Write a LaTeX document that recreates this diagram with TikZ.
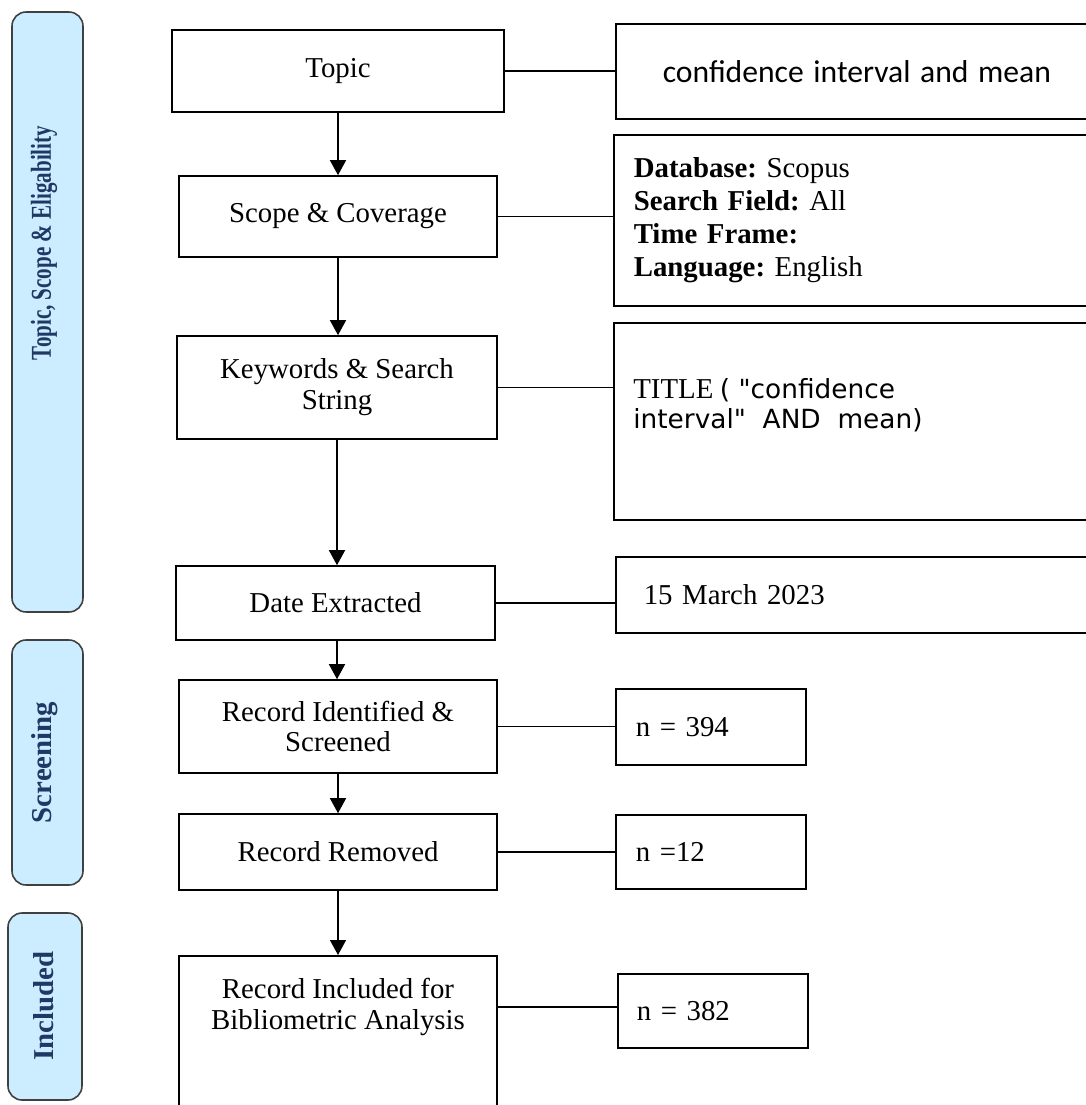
\documentclass[tikz,border=0pt]{standalone}
\usepackage{fontspec}
\setmainfont{Liberation Serif}
\newfontfamily\calibrifont{Carlito}
\newfontfamily\verdanafont{DejaVu Sans}
\usetikzlibrary{arrows.meta,positioning}
\definecolor{barfill}{HTML}{CCECFF}
\definecolor{bartext}{HTML}{1F3864}
\definecolor{barline}{HTML}{404040}
\newcommand{\boxfont}{\fontsize{16.4}{17.6}\selectfont}
\frenchspacing

\tikzset{
  stepbox/.style={draw, line width=0.9pt, align=center, inner sep=0pt, font=\boxfont},
  infobox/.style={draw, line width=0.9pt, anchor=north west, align=left, inner ysep=0pt, font=\boxfont},
  phase/.style={draw=barline, fill=barfill, rounded corners=8pt, line width=0.9pt},
  phasetext/.style={rotate=90, text=bartext, font=\bfseries\fontsize{16.4}{18}\selectfont},
  flow/.style={line width=0.8pt, -{Triangle[width=0.32cm,length=0.3cm]}},
  link/.style={line width=0.8pt}
}

\begin{document}
\begin{tikzpicture}
            \useasboundingbox (0,0) rectangle (21.72,-22.10);

            % phase bars on the left
            \draw[phase] (0.24,-0.24) rectangle (1.66,-12.24);
            \draw[phase] (0.24,-12.80) rectangle (1.66,-17.70);
            \draw[phase] (0.16,-18.26) rectangle (1.64,-22.00);
            \node[phasetext] (tseA) at (0.88,-4.86) {\scalebox{0.73}[1]{Topic, Scope \& Eligability}};
            \node[phasetext] (tseB) at (0.90,-15.25) {Screening};
            \node[phasetext] (tseC) at (0.88,-20.12) {Included};

            % main steps
            \node[stepbox, minimum width=6.64cm, minimum height=1.64cm] (topic) at (6.76,-1.42) {Topic};
            \node[stepbox, minimum width=6.36cm, minimum height=1.62cm] (scope) at (6.76,-4.33) {Scope \& Coverage};
            \node[stepbox, minimum width=6.40cm, minimum height=2.06cm] (kw) at (6.74,-7.75) {Keywords \& Search\\String};
            \node[stepbox, minimum width=6.38cm, minimum height=1.48cm] (date) at (6.71,-12.06) {Date Extracted};
            \node[stepbox, minimum width=6.36cm, minimum height=1.86cm] (ident) at (6.76,-14.53) {Record Identified \&\\Screened};
            \node[stepbox, minimum width=6.36cm, minimum height=1.52cm] (removed) at (6.76,-17.04) {Record Removed};
            \node[stepbox, minimum width=6.36cm, minimum height=3.14cm, anchor=north] (incl) at (6.76,-19.10) {};
            \node[font=\boxfont, align=center, inner sep=0pt] (incltxt) at ([yshift=-1.04cm]incl.north) {Record Included for\\Bibliometric Analysis};

            % details on the right
            \node[infobox, minimum width=9.60cm, minimum height=1.90cm, inner xsep=0.94cm, text width=8.60cm] (conf) at (12.30,-0.46) {\calibrifont\fontsize{18}{20}\selectfont confidence interval and mean};
            \node[infobox, minimum width=9.64cm, minimum height=3.42cm, inner xsep=0.40cm, text width=8.84cm, font=\fontsize{16.4}{18.9}\selectfont] (db) at (12.26,-2.68) {\textbf{Database:} Scopus\\\textbf{Search Field:} All\\\textbf{Time Frame:}\\\textbf{Language:} English};
            \node[infobox, minimum width=9.64cm, minimum height=3.94cm] (title) at (12.26,-6.44) {};
            \node[anchor=west, align=left, inner sep=0pt, font=\fontsize{15}{17.2}\selectfont] (titletxt) at (12.66,-8.10) {{\boxfont TITLE} \verdanafont( "confidence\\\verdanafont interval"~~AND~~mean)};
            \node[infobox, minimum width=9.60cm, minimum height=1.52cm, inner xsep=0.56cm, text width=8.48cm] (march) at (12.30,-11.12) {15 March 2023};
            \node[infobox, minimum width=3.80cm, minimum height=1.52cm, inner xsep=0.40cm, text width=3.00cm] (nA) at (12.30,-13.76) {n = 394};
            \node[infobox, minimum width=3.80cm, minimum height=1.48cm, inner xsep=0.40cm, text width=3.00cm] (nB) at (12.30,-16.28) {n =12};
            \node[infobox, minimum width=3.80cm, minimum height=1.48cm, inner xsep=0.38cm, text width=3.04cm] (nC) at (12.34,-19.46) {n = 382};

            % flow arrows
            \draw[flow] (topic.south) -- (topic.south |- scope.north);
            \draw[flow] (scope.south) -- (scope.south |- kw.north);
            \draw[flow] (kw.south) -- (kw.south |- date.north);
            \draw[flow] (kw.south |- date.south) -- (kw.south |- ident.north);
            \draw[flow] (ident.south) -- (ident.south |- removed.north);
            \draw[flow] (removed.south) -- (removed.south |- incl.north);

            % side links
            \draw[link] (topic.east) -- (topic.east -| conf.west);
            \draw[link] (scope.east) -- (scope.east -| db.west);
            \draw[link] (kw.east) -- (kw.east -| title.west);
            \draw[link] (date.east) -- (date.east -| march.west);
            \draw[link] (ident.east) -- (ident.east -| nA.west);
            \draw[link] (removed.east) -- (removed.east -| nB.west);
            \draw[link] (incltxt -| incl.east) -- (incltxt -| nC.west);
\end{tikzpicture}
\end{document}
